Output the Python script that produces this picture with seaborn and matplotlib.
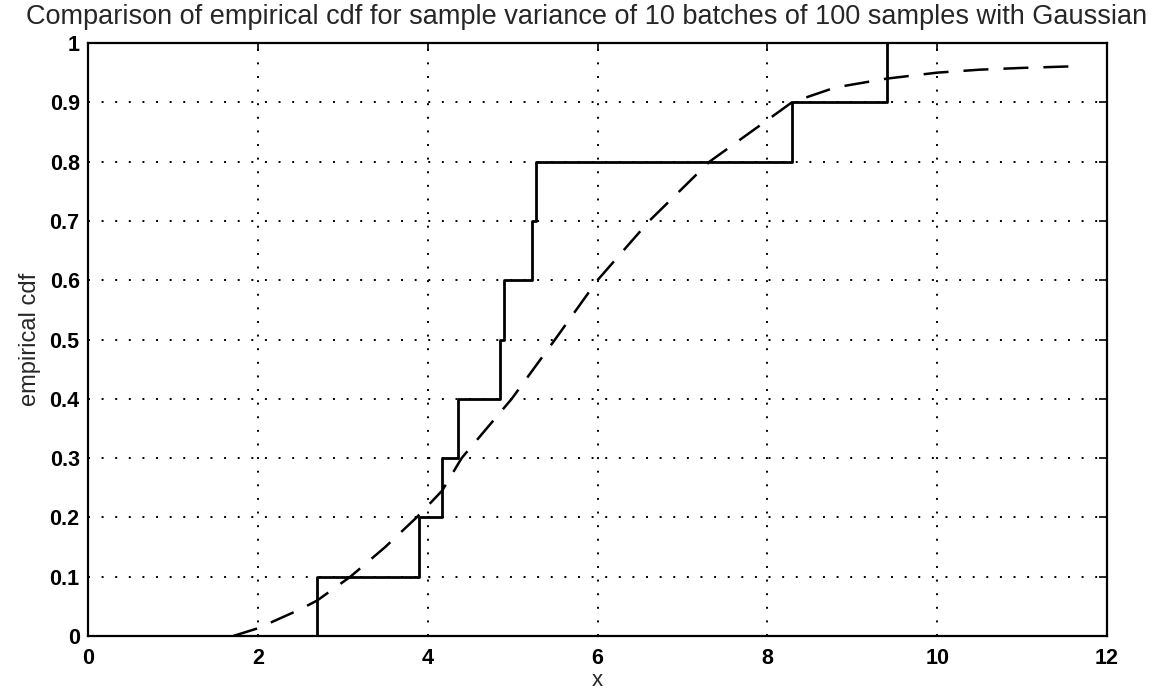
import numpy as np
import pandas as pd
import seaborn as sns
import matplotlib
matplotlib.use("Agg")
import matplotlib.pyplot as plt
from matplotlib import font_manager

# Sorted sample variances (10 batches)
variances = [2.70, 3.90, 4.17, 4.36, 4.85, 4.90, 5.23, 5.28, 8.29, 9.41]

# Gaussian reference curve
gauss_x = [1.71, 2.0, 2.5, 2.70, 3.09, 3.5, 3.87, 4.17, 4.40, 4.99, 5.5, 6.0,
           6.61, 7.32, 8.0, 8.29, 8.8, 9.41, 10.0, 10.5, 11.0, 11.67]
gauss_y = [0.0, 0.013, 0.045, 0.06, 0.10, 0.15, 0.20, 0.245, 0.30, 0.40, 0.50, 0.60,
           0.70, 0.80, 0.87, 0.90, 0.925, 0.94, 0.95, 0.955, 0.958, 0.961]

x_ticks = [0, 2, 4, 6, 8, 10, 12]
y_ticks = [0, 0.1, 0.2, 0.3, 0.4, 0.5, 0.6, 0.7, 0.8, 0.9, 1]
y_ticklabels = ["0", "0.1", "0.2", "0.3", "0.4", "0.5", "0.6", "0.7", "0.8", "0.9", "1"]

sns.set_style("white")
plt.rcParams['font.family'] = ['Liberation Sans', 'DejaVu Sans']

available = {f.name for f in font_manager.fontManager.ttflist}
narrow = 'Liberation Sans Narrow' if 'Liberation Sans Narrow' in available else 'Liberation Sans'

fig = plt.figure(figsize=(11.7, 6.9), dpi=100)
ax = fig.add_axes([88/1170, 54/690, (1107-88)/1170, (636-43)/690])

sns.ecdfplot(x=variances, ax=ax, color="black", linewidth=2.0)
sns.lineplot(x=gauss_x, y=gauss_y, ax=ax, color="black", linewidth=1.8,
             linestyle=(0, (10, 6)))

ax.set_xlim(0, 12)
ax.set_ylim(0, 1)
ax.set_xticks(x_ticks)
ax.set_xticklabels([str(t) for t in x_ticks])
ax.set_yticks(y_ticks)
ax.set_yticklabels(y_ticklabels)
ax.grid(True, color="black", linestyle=(0, (1, 6)), linewidth=1.4)
ax.tick_params(direction="in", length=6, width=1.2, top=True, right=True,
               labelsize=15.5, colors="black")
ax.tick_params(axis="x", pad=9)
ax.tick_params(axis="y", pad=6)
for lab in ax.get_xticklabels() + ax.get_yticklabels():
    lab.set_fontweight("bold")
for sp in ax.spines.values():
    sp.set_color("black")
    sp.set_linewidth(1.6)

ax.set_xlabel("x", fontsize=16)
ax.xaxis.set_label_coords(0.5, -34/593)
ax.set_ylabel("empirical cdf", fontsize=17, labelpad=6, family=[narrow, 'DejaVu Sans'])
ax.set_title("Comparison of empirical cdf for sample variance of 10 batches of 100 samples with Gaussian",
             fontsize=19.5, pad=14, x=0.489)

fig.savefig("out.png", dpi=100)
